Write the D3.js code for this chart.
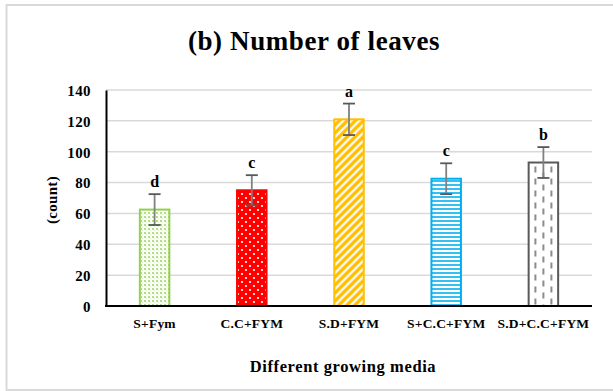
<!DOCTYPE html>
<html>
<head>
<meta charset="utf-8">
<script src="https://cdn.jsdelivr.net/npm/d3@7"></script>
<style>
html,body{margin:0;padding:0;background:#fff;}
svg{display:block;}
svg text{font-family:"Palatino Linotype","Book Antiqua",Palatino,"Liberation Serif",serif !important;font-weight:bold;}
</style>
</head>
<body>
<script>
const categories = ["S+Fym", "C.C+FYM", "S.D+FYM", "S+C.C+FYM", "S.D+C.C+FYM"];
const values = [62.5, 75, 121, 82.5, 93];
const errors = [10, 9.8, 10.2, 10, 10];
const letters = ["d", "c", "a", "c", "b"];
const yTicks = [0, 20, 40, 60, 80, 100, 120, 140];
const fills = ["url(#pGreen)", "url(#pRed)", "url(#pYellow)", "url(#pBlue)", "url(#pGray)"];
const strokes = ["#92d050", "#ff0000", "#ffc000", "#00b0f0", "#595959"];

const W = 613, H = 391;
const m = {left: 106, right: 21, top: 90, bottom: 85};
const svg = d3.select("body").append("svg").attr("width", W).attr("height", H);

// patterns
const defs = svg.append("defs");
let p = defs.append("pattern").attr("id","pGreen").attr("patternUnits","userSpaceOnUse").attr("width",4).attr("height",4);
p.append("rect").attr("width",4).attr("height",4).attr("fill","#fff");
p.append("rect").attr("x",0).attr("y",0).attr("width",2).attr("height",2).attr("fill","#b4dd8a");
p.append("rect").attr("x",2).attr("y",2).attr("width",1).attr("height",1).attr("fill","#d6edbf");

p = defs.append("pattern").attr("id","pRed").attr("patternUnits","userSpaceOnUse").attr("width",8).attr("height",8);
p.append("rect").attr("width",8).attr("height",8).attr("fill","#ff0000");
p.append("rect").attr("x",1).attr("y",1).attr("width",2).attr("height",2).attr("fill","#ffd0d0");
p.append("rect").attr("x",5).attr("y",5).attr("width",2).attr("height",2).attr("fill","#ffd0d0");

p = defs.append("pattern").attr("id","pYellow").attr("patternUnits","userSpaceOnUse").attr("width",8).attr("height",8);
p.append("rect").attr("width",8).attr("height",8).attr("fill","#ffc000");
p.append("path").attr("d","M-2,2 L2,-2 M0,8 L8,0 M6,10 L10,6").attr("stroke","#fff4d6").attr("stroke-width",2.6);

p = defs.append("pattern").attr("id","pBlue").attr("patternUnits","userSpaceOnUse").attr("width",6).attr("height",4);
p.append("rect").attr("width",6).attr("height",4).attr("fill","#ffffff");
p.append("rect").attr("x",0).attr("y",0).attr("width",6).attr("height",2).attr("fill","#36bff2");

p = defs.append("pattern").attr("id","pGray").attr("patternUnits","userSpaceOnUse").attr("width",8).attr("height",12);
p.append("rect").attr("width",8).attr("height",12).attr("fill","#fff");

// outer border
svg.append("rect").attr("x",6.5).attr("y",5).attr("width",W).attr("height",385)
  .attr("fill","none").attr("stroke","#d9d9d9").attr("stroke-width",2);

const x = d3.scaleBand().domain(categories).range([m.left, W - m.right]).padding(0);
const y = d3.scaleLinear().domain([0, 140]).range([H - m.bottom, m.top]);
const barW = 31.5;

// gridlines
svg.append("g").selectAll("line").data(yTicks.filter(d => d > 0)).join("line")
  .attr("x1", m.left).attr("x2", W - m.right)
  .attr("y1", d => y(d)).attr("y2", d => y(d))
  .attr("stroke","#d9d9d9").attr("stroke-width",1.5);

// y axis
const yAxis = svg.append("g").attr("transform",`translate(${m.left},0)`)
  .call(d3.axisLeft(y).tickValues(yTicks).tickSize(0).tickPadding(15));
yAxis.attr("font-family", null).attr("font-size", null);
yAxis.select(".domain").attr("stroke","#000").attr("stroke-width",2);
yAxis.selectAll("text").attr("font-size",15).attr("letter-spacing",0.4).attr("fill","#000").attr("dy","0.36em");

// bars
const g = svg.append("g");
g.selectAll("rect.bar").data(values).join("rect").attr("class","bar")
  .attr("x",(d,i) => x(categories[i]) + x.bandwidth()/2 - barW/2 + 1)
  .attr("width", barW - 2)
  .attr("y", d => y(d)).attr("height", d => y(0) - y(d))
  .attr("fill",(d,i) => fills[i]).attr("stroke",(d,i) => strokes[i]).attr("stroke-width",2);

// gray bar dashed lines
const i5 = 4;
const cx5 = x(categories[i5]) + x.bandwidth()/2;
[-8, 0, 8].forEach((dx, k) => {
  g.append("line").attr("x1", cx5 + dx).attr("x2", cx5 + dx)
    .attr("y1", y(values[i5]) + 4).attr("y2", y(0))
    .attr("stroke","#8c8c8c").attr("stroke-width",2)
    .attr("stroke-dasharray","6,6").attr("stroke-dashoffset", k === 1 ? 6 : 0);
});

// x axis
svg.append("line").attr("x1", m.left - 1).attr("x2", W - m.right)
  .attr("y1", y(0)).attr("y2", y(0)).attr("stroke","#000").attr("stroke-width",2);

// error bars
const eb = svg.append("g");
values.forEach((v, i) => {
  const cx = x(categories[i]) + x.bandwidth()/2;
  eb.append("line").attr("x1",cx).attr("x2",cx).attr("y1",y(v + errors[i])).attr("y2",y(v - errors[i]))
    .attr("stroke","#808080").attr("stroke-width",1.8);
  [v + errors[i], v - errors[i]].forEach(e => {
    eb.append("line").attr("x1",cx - 6).attr("x2",cx + 6).attr("y1",y(e)).attr("y2",y(e))
      .attr("stroke","#595959").attr("stroke-width",1.8);
  });
});

// letters
svg.append("g").selectAll("text").data(letters).join("text")
  .attr("x",(d,i) => x(categories[i]) + x.bandwidth()/2)
  .attr("y",(d,i) => y(values[i] + errors[i]) - 7)
  .attr("text-anchor","middle").attr("font-size",16).text(d => d);

// x labels
svg.append("g").selectAll("text").data(categories).join("text")
  .attr("x", d => x(d) + x.bandwidth()/2).attr("y", 328)
  .attr("text-anchor","middle").attr("font-size",13.5).attr("letter-spacing",0.2).text(d => d);

// axis titles
svg.append("text").attr("x", 343).attr("y", 372).attr("text-anchor","middle")
  .attr("font-size",16.5).attr("letter-spacing",0.6).text("Different growing media");
svg.append("text").attr("transform","translate(57,200) rotate(-90)").attr("text-anchor","middle")
  .attr("font-size",15).attr("letter-spacing",0.3).text("(count)");

// title
svg.append("text").attr("x", 314).attr("y", 50).attr("text-anchor","middle")
  .attr("font-size",27).attr("letter-spacing",0.6).text("(b) Number of leaves");
</script>
</body>
</html>
